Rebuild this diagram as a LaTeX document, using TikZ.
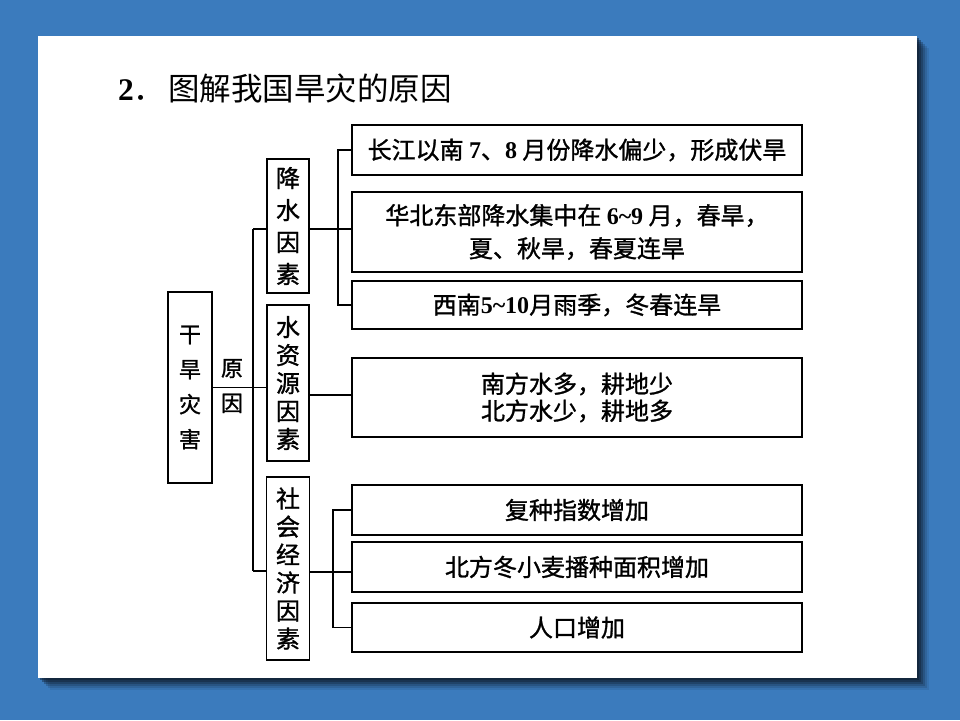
\documentclass[tikz,border=0pt]{standalone}
\usepackage{fontspec}
\setmainfont{Noto Sans CJK SC}[FakeBold=1.2]
\newfontfamily\titlefont{Noto Sans CJK SC}
\newfontfamily\tnr{Liberation Serif}
\definecolor{slideblue}{RGB}{59,123,189}
\definecolor{shadowc}{RGB}{15,28,45}
\begin{document}
\begin{tikzpicture}[x=1pt,y=-1pt,
  bx/.style={draw, line width=1.6pt, inner sep=0pt, align=center},
  vt/.style={bx, font=\fontsize{24}{28}\selectfont},
  rb/.style={bx, minimum width=450, font=\fontsize{24}{30}\selectfont},
  ln/.style={line width=1.2pt},
  br/.style={line width=1.8pt}]
\useasboundingbox (0,0) rectangle (960,720);
\fill[slideblue] (0,0) rectangle (960,720);
% shadow
\foreach \d/\o in {12/0.10,10/0.15,8/0.22,6/0.3,4/0.4,2/0.5}{
  \fill[shadowc, opacity=\o] (38+\d,36+\d) rectangle (917+\d,678+\d);
}
\fill[white] (38,36) rectangle (917,678);
% title
\node[anchor=west, inner sep=0pt, font=\titlefont\fontsize{31.5}{36}\selectfont] (title) at (118,88)
  {{\tnr\bfseries 2}．\hspace{3pt}图解我国旱灾的原因};
% left boxes
\node[bx, minimum width=44, minimum height=191, font=\fontsize{22}{35}\selectfont] (gh) at (190,387.5) {干\\旱\\灾\\害};
\node[inner sep=0pt, align=center, font=\fontsize{22}{35}\selectfont] (yy) at (232,386) {原\\因};
\node[vt, minimum width=42, minimum height=134, font=\fontsize{24}{32}\selectfont] (js) at (288,226) {降\\水\\因\\素};
\node[vt, minimum width=42, minimum height=156] (szy) at (288,383) {水\\资\\源\\因\\素};
\node[vt, minimum width=43, minimum height=183] (sh) at (288,568.5) {社\\会\\经\\济\\因\\素};
% right boxes
\node[rb, minimum height=50] (r1) at (577,150) {长江以南 {\tnr\bfseries 7}、{\tnr\bfseries 8} 月份降水偏少，形成伏旱};
\node[rb, minimum height=80, font=\fontsize{24}{33}\selectfont] (r2) at (577,232) {华北东部降水集中在 {\tnr\bfseries 6\textasciitilde 9} 月，春旱，\\夏、秋旱，春夏连旱};
\node[rb, minimum height=48] (r3) at (577,305) {西南{\tnr\bfseries 5\textasciitilde 10}月雨季，冬春连旱};
\node[rb, minimum height=79, font=\fontsize{24}{27}\selectfont] (r4) at (577,397.5) {南方水多，耕地少\\北方水少，耕地多};
\node[rb, minimum height=50] (r5) at (577,510) {复种指数增加};
\node[rb, minimum height=50] (r6) at (577,567) {北方冬小麦播种面积增加};
\node[rb, minimum height=49] (r7) at (577,627.5) {人口增加};
% connector coordinates
\coordinate (t1) at (253,229);
\coordinate (t3) at (253,571);
\coordinate (b1) at (338,0);
\coordinate (b2) at (333,0);
\coordinate (s1) at (0,572);
\coordinate (s2) at (0,395);
% trunk
\draw[ln] (t1) -- (t3);
\draw[ln] (gh.east) -- (szy.west |- gh.east);
\draw[ln] (t1) -- (t1 -| js.west);
\draw[ln] (t3) -- (t3 -| sh.west);
% precipitation branch
\draw[ln] (js.east |- t1) -- (r2.west |- t1);
\draw[br] (r1.west) -- (r1.west -| b1) -- (r3.west -| b1) -- (r3.west);
% water resources
\draw[ln] (szy.east |- s2) -- (r4.west |- s2);
% socio-economic
\draw[ln] (sh.east |- s1) -- (r6.west |- s1);
\draw[br] (r5.west) -- (r5.west -| b2) -- (r7.west -| b2) -- (r7.west);
\end{tikzpicture}
\end{document}
